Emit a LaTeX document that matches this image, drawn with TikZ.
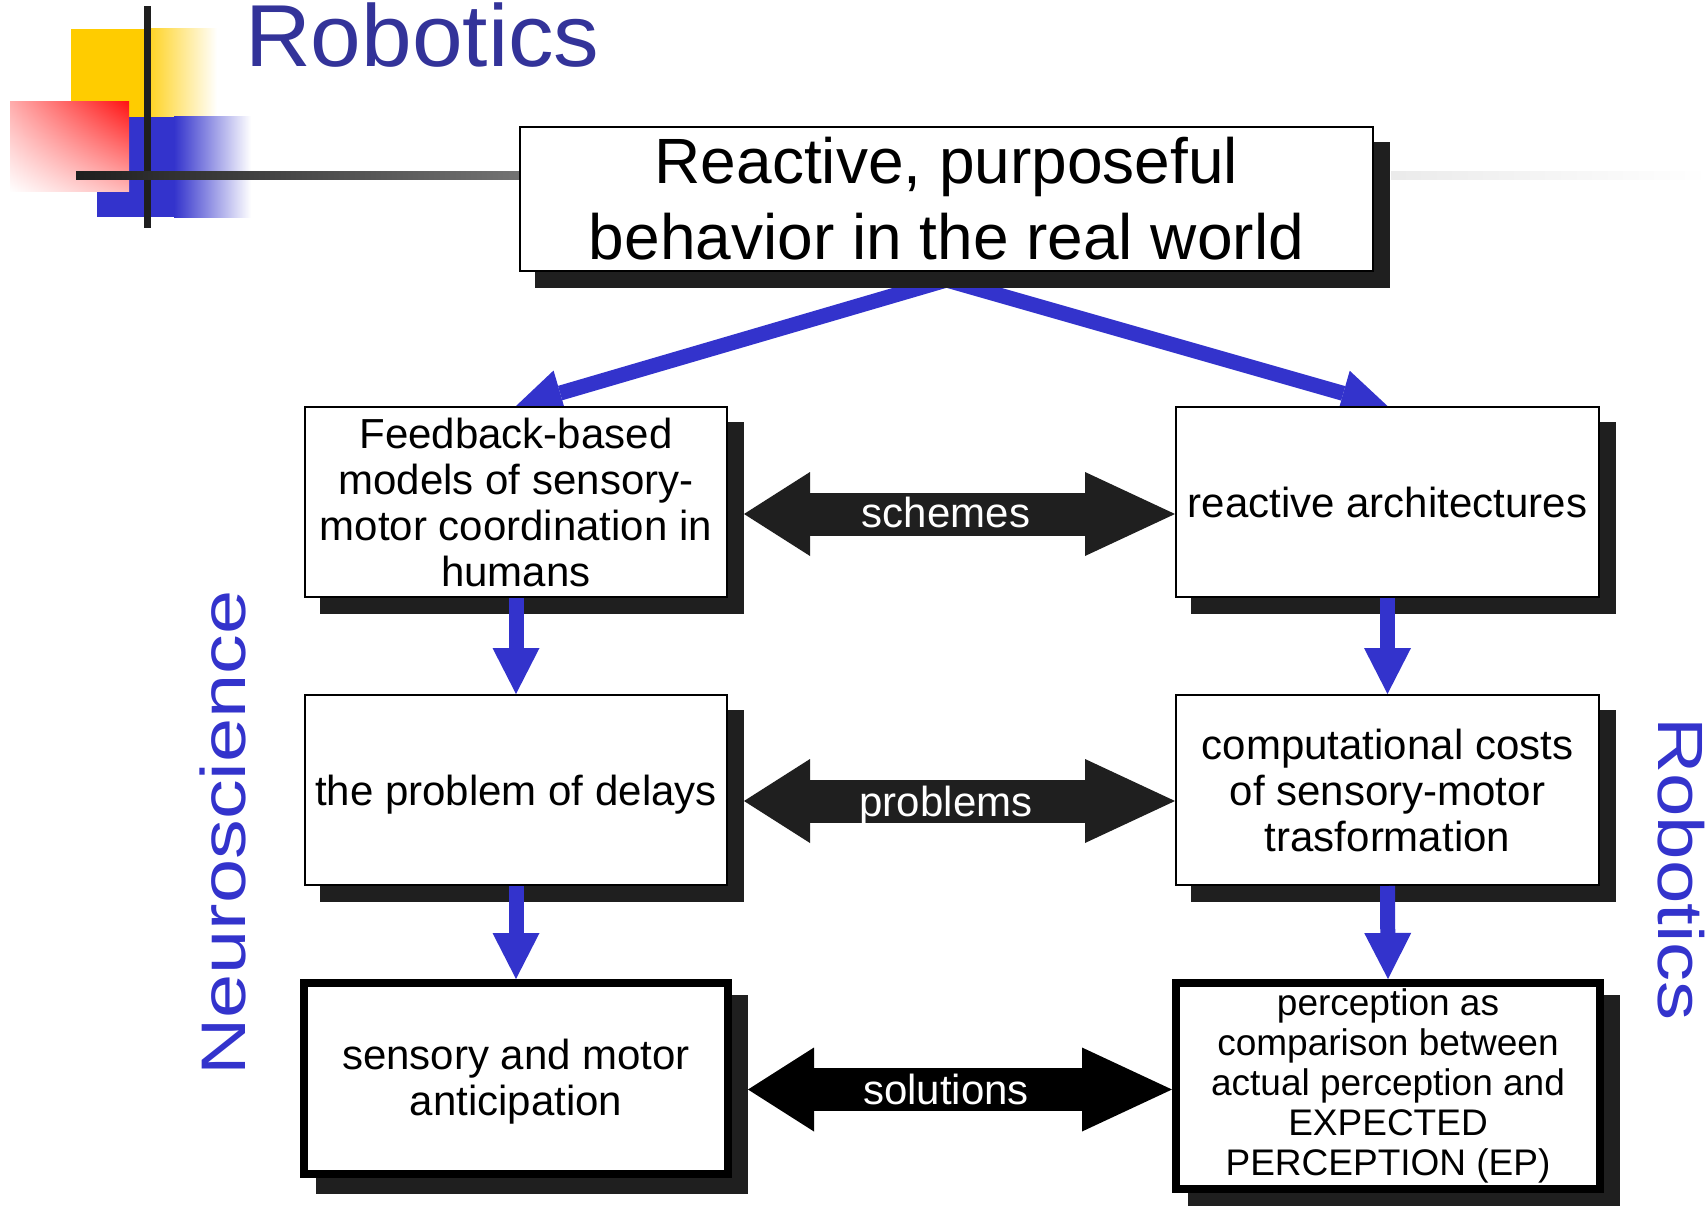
\documentclass[tikz,border=0pt]{standalone}
\usepackage{fontspec}
\setmainfont{Liberation Sans}
\usepackage{graphicx}
\usetikzlibrary{arrows.meta,calc,shadings}
\definecolor{navyt}{HTML}{333399}
\definecolor{blueA}{HTML}{3333CC}
\definecolor{shadowc}{HTML}{1F1F1F}
\definecolor{yellowL}{HTML}{FFCC00}
\definecolor{redL}{HTML}{FF1414}
\pgfdeclarelayer{bg}
\pgfdeclarelayer{shadowlayer}
\pgfsetlayers{bg,shadowlayer,main}
\begin{document}
\begin{tikzpicture}[x=1pt,y=-1pt,
  box/.style={draw=black, line width=2pt, fill=white, inner sep=0pt, align=center},
  thickbox/.style={box, line width=8pt},
  rowfont/.style={font=\fontsize{42}{46}\selectfont},
  bluearrow/.style={blueA, line width=15pt, -{Triangle[length=46pt,width=47pt,line width=0pt]}},
  dblarrow/.style={line width=43pt, {Triangle[length=66pt,width=84pt,line width=0pt]}-{Triangle[length=90pt,width=84pt,line width=0pt]}},
  arrowlbl/.style={text=white, inner sep=0pt, anchor=base, font=\fontsize{42}{46}\selectfont},
  sidelbl/.style={text=blueA, inner sep=0pt, anchor=base}
]
\useasboundingbox (0,0) rectangle (1708,1206);

% ---- logo ----
\begin{pgfonlayer}{bg}
\fill[yellowL] (71,29) rectangle (151,117);
\shade[left color=yellowL!85!white, right color=white] (150,29) rectangle (217,117);
\fill[blueA] (97,117) rectangle (175,217);
\shade[left color=blueA, right color=white] (174,117) rectangle (251,218);
\shade[upper left=redL!35!white, upper right=redL, lower left=white, lower right=redL!30!white] (10,102) rectangle (129,192);
\fill[shadowc] (144,6) rectangle (151,228);
\shade[left color=shadowc, right color=black!55] (76,172) rectangle (520,180);
\shade[left color=black!8, right color=white] (1391,172) rectangle (1708,180);
\end{pgfonlayer}

\node[anchor=base west, inner sep=0pt, text=navyt, font=\fontsize{88}{100}\selectfont] (title) at (245,67) {\scalebox{1.035}[1]{Robotics}};

% ---- boxes ----
\node[box, minimum width=853pt, minimum height=144pt, font=\fontsize{64}{76}\selectfont] (top) at (946.5,199) {Reactive, purposeful\\behavior in the real world};
\node[box, rowfont, minimum width=422pt, minimum height=190pt] (A1) at (516,502) {Feedback-based\\models of sensory-\\motor coordination in\\humans};
\node[box, rowfont, minimum width=423pt, minimum height=190pt] (B1) at (1387.5,502) {reactive architectures};
\node[box, rowfont, minimum width=422pt, minimum height=190pt, text depth=0pt] (A2) at (516,790) {the problem of delays};
\node[box, rowfont, minimum width=423pt, minimum height=190pt] (B2) at (1387.5,790) {computational costs\\of sensory-motor\\trasformation};
\node[thickbox, rowfont, minimum width=424pt, minimum height=191pt] (A3) at (516,1078.5) {\rule{0pt}{37pt}sensory and motor\\anticipation};
\node[thickbox, font=\fontsize{37}{40}\selectfont, minimum width=424pt, minimum height=206pt] (B3) at (1388,1086) {perception as\\comparison between\\actual perception and\\EXPECTED\\PERCEPTION (EP)};

% ---- shadows ----
\begin{pgfonlayer}{shadowlayer}
\foreach \n in {top,A1,B1,A2,B2,A3,B3}
  \fill[shadowc] ([shift={(16,16)}]\n.north west) rectangle ([shift={(16,16)}]\n.south east);
\end{pgfonlayer}

% ---- blue arrows ----
\coordinate (apex) at ([shift={(0,8)}]top.south);
\begin{pgfonlayer}{bg}
\draw[bluearrow] (apex) -- (A1.north);
\draw[bluearrow] (apex) -- (B1.north);
\end{pgfonlayer}
\draw[bluearrow] (A1.south) -- (A2.north);
\draw[bluearrow] (B1.south) -- (B2.north);
\draw[bluearrow] (A2.south) -- (A3.north);
\draw[bluearrow] (B2.south) -- (B3.north);

% ---- double arrows ----
\coordinate (s1) at ([shift={(16,12)}]A1.east);
\coordinate (s2) at ([shift={(16,11)}]A2.east);
\coordinate (s3) at ([shift={(16,11)}]A3.east);
\draw[dblarrow, shadowc] (s1) -- (s1 -| B1.west);
\draw[dblarrow, shadowc] (s2) -- (s2 -| B2.west);
\draw[dblarrow, black] (s3) -- (s3 -| B3.west);
\node[arrowlbl] (schemesT) at (946,527) {schemes};
\node[arrowlbl] (problemsT) at (946,816) {problems};
\node[arrowlbl] (solutionsT) at (946,1104) {solutions};

% ---- side labels ----
\node[sidelbl, rotate=90, font=\fontsize{63}{70}\selectfont] (neuro) at (245,833) {\scalebox{1.26}[1]{Neuroscience}};
\node[sidelbl, rotate=-90, font=\fontsize{64}{70}\selectfont] (robo) at (1658,869) {\scalebox{1.22}[1]{Robotics}};
\end{tikzpicture}
\end{document}
